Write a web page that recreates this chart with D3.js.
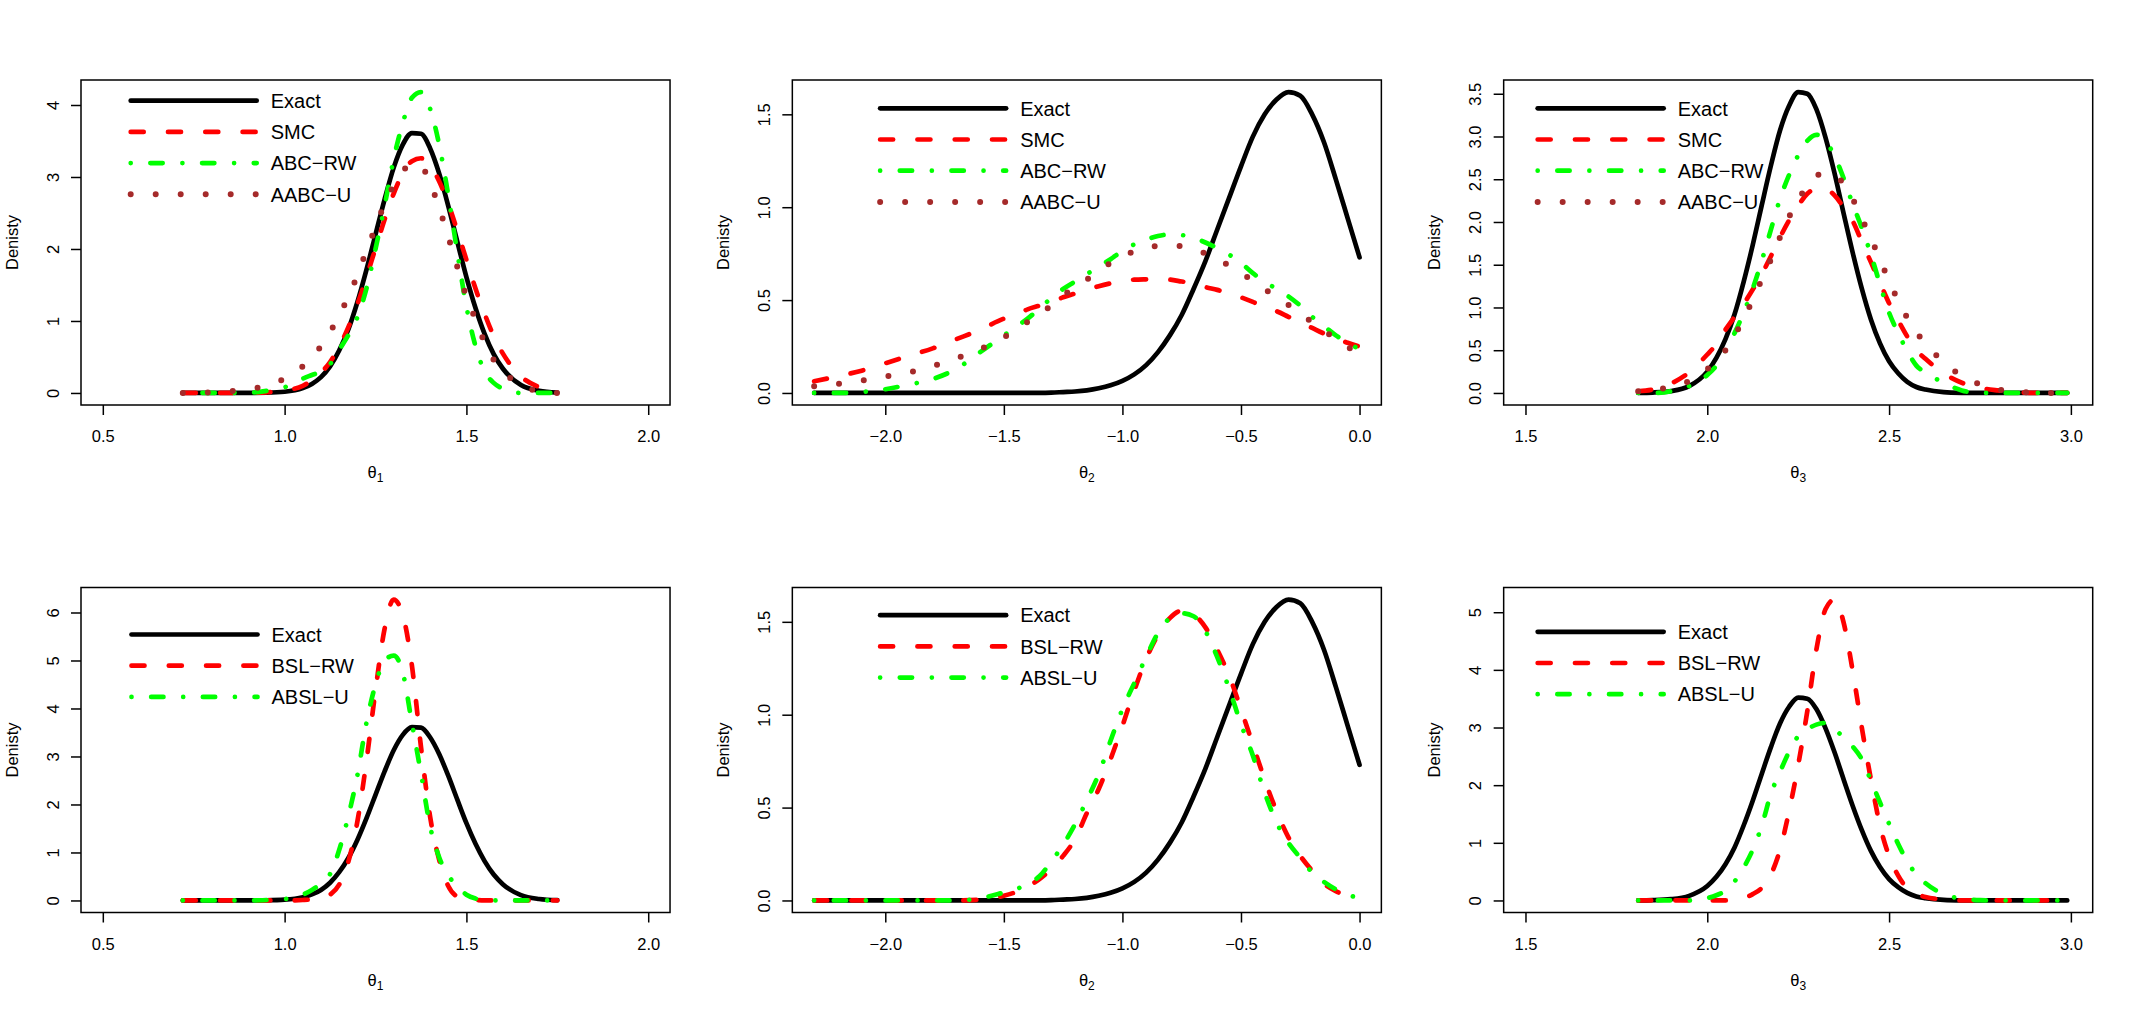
<!DOCTYPE html>
<html>
<head>
<meta charset="utf-8">
<script src="https://cdn.jsdelivr.net/npm/d3@7"></script>
<style>
  body { margin: 0; background: #fff; }
  svg { display: block; font-family: "Liberation Sans", Arial, Helvetica, sans-serif; }
</style>
</head>
<body>
<svg id="chart" width="2134" height="1015"></svg>
<script>
// theta1 grid and densities
const theta1Grid = [0.72, 0.80, 0.90, 0.95, 1.00, 1.05, 1.075, 1.10, 1.125, 1.15, 1.175, 1.20, 1.225, 1.25, 1.275, 1.30,
  1.325, 1.35, 1.375, 1.40, 1.425, 1.45, 1.475, 1.50, 1.525, 1.55, 1.575, 1.60, 1.65, 1.70, 1.75];
const exactTheta1 = [0, 0, 0.001, 0.004, 0.017, 0.068, 0.126, 0.22, 0.37, 0.59, 0.88, 1.26, 1.71, 2.20, 2.69, 3.13,
  3.45, 3.61, 3.60, 3.40, 3.05, 2.60, 2.10, 1.61, 1.18, 0.82, 0.54, 0.34, 0.11, 0.03, 0.005];
const smcTheta1 = [0, 0, 0.002, 0.009, 0.033, 0.10, 0.175, 0.28, 0.43, 0.64, 0.91, 1.23, 1.61, 2.01, 2.41, 2.77,
  3.05, 3.22, 3.26, 3.16, 2.94, 2.63, 2.25, 1.85, 1.45, 1.10, 0.79, 0.55, 0.23, 0.08, 0.01];
const abcRwTheta1 = [0, 0, 0.005, 0.03, 0.08, 0.20, 0.25, 0.30, 0.40, 0.60, 0.80, 1.05, 1.45, 2.00, 2.60, 3.25,
  3.75, 4.10, 4.18, 3.95, 3.45, 2.75, 1.95, 1.20, 0.65, 0.30, 0.14, 0.06, 0, 0, 0];
const aabcUTheta1 = [0, 0.01, 0.05, 0.10, 0.20, 0.37, 0.50, 0.65, 0.85, 1.07, 1.34, 1.63, 1.98, 2.30, 2.63, 2.88,
  3.08, 3.18, 3.15, 2.92, 2.57, 2.17, 1.75, 1.34, 1.02, 0.70, 0.46, 0.30, 0.12, 0.02, 0];
const bslRwTheta1 = [0, 0, 0, 0, 0, 0.01, 0.02, 0.04, 0.12, 0.33, 0.80, 1.64, 2.90, 4.38, 5.66, 6.27,
  5.95, 4.90, 3.20, 1.75, 0.85, 0.30, 0.08, 0.03, 0.01, 0, 0, 0, 0, 0, 0];
const abslUTheta1 = [0, 0, 0, 0.01, 0.03, 0.12, 0.22, 0.35, 0.55, 1.05, 1.75, 2.60, 3.70, 4.50, 5.00, 5.10,
  4.75, 3.70, 2.65, 1.55, 0.90, 0.52, 0.30, 0.12, 0.04, 0.01, 0, 0, 0, 0, 0];

// theta2 grid and densities
const theta2Grid = [-2.3, -2.2, -2.1, -2.0, -1.9, -1.8, -1.7, -1.6, -1.5, -1.45, -1.4, -1.35, -1.3, -1.25, -1.2,
  -1.15, -1.1, -1.05, -1.0, -0.95, -0.9, -0.85, -0.8, -0.75, -0.7, -0.65, -0.6, -0.55, -0.5, -0.45, -0.4,
  -0.35, -0.3, -0.25, -0.2, -0.15, -0.1, -0.05, 0.0];
const exactTheta2 = [0, 0, 0, 0, 0, 0, 0, 0, 0, 0, 0.001, 0.001, 0.002, 0.005, 0.008,
  0.014, 0.025, 0.041, 0.065, 0.10, 0.15, 0.22, 0.31, 0.42, 0.56, 0.71, 0.88, 1.05, 1.22, 1.38, 1.50,
  1.58, 1.62, 1.60, 1.50, 1.35, 1.15, 0.94, 0.73];
const smcTheta2 = [0.063, 0.09, 0.12, 0.16, 0.20, 0.24, 0.29, 0.34, 0.40, 0.42, 0.45, 0.47, 0.49, 0.515, 0.535,
  0.555, 0.575, 0.59, 0.60, 0.61, 0.612, 0.613, 0.61, 0.60, 0.59, 0.57, 0.555, 0.535, 0.515, 0.49, 0.46,
  0.44, 0.41, 0.38, 0.35, 0.32, 0.295, 0.27, 0.25];
const abcRwTheta2 = [0, 0, 0.005, 0.02, 0.045, 0.075, 0.13, 0.22, 0.31, 0.355, 0.40, 0.455, 0.51, 0.56, 0.60,
  0.64, 0.68, 0.72, 0.765, 0.80, 0.825, 0.845, 0.853, 0.85, 0.835, 0.81, 0.78, 0.745, 0.70, 0.645, 0.60,
  0.56, 0.52, 0.47, 0.41, 0.36, 0.31, 0.27, 0.235];
const aabcUTheta2 = [0.036, 0.049, 0.066, 0.088, 0.11, 0.145, 0.187, 0.236, 0.30, 0.34, 0.383, 0.425, 0.47, 0.525, 0.57,
  0.61, 0.657, 0.70, 0.735, 0.762, 0.782, 0.792, 0.795, 0.79, 0.777, 0.75, 0.72, 0.685, 0.645, 0.605, 0.56,
  0.515, 0.474, 0.43, 0.38, 0.335, 0.29, 0.245, 0.23];
const bslRwTheta2 = [0, 0, 0, 0, 0, 0, 0, 0.005, 0.025, 0.045, 0.075, 0.115, 0.17, 0.24, 0.33,
  0.47, 0.60, 0.76, 0.94, 1.13, 1.30, 1.43, 1.52, 1.56, 1.54, 1.47, 1.35, 1.21, 1.03, 0.84, 0.65,
  0.48, 0.34, 0.24, 0.16, 0.09, 0.05, 0.025, 0.015];
const abslUTheta2 = [0, 0, 0, 0, 0, 0, 0, 0.012, 0.043, 0.06, 0.09, 0.13, 0.21, 0.30, 0.41,
  0.54, 0.68, 0.86, 1.03, 1.17, 1.31, 1.44, 1.52, 1.546, 1.53, 1.45, 1.31, 1.14, 0.95, 0.78, 0.58,
  0.42, 0.31, 0.23, 0.15, 0.10, 0.06, 0.03, 0.015];

// theta3 grid and densities
const theta3Grid = [1.81, 1.85, 1.90, 1.95, 2.00, 2.025, 2.05, 2.075, 2.10, 2.125, 2.15, 2.175, 2.20, 2.225, 2.25,
  2.275, 2.30, 2.325, 2.35, 2.375, 2.40, 2.425, 2.45, 2.475, 2.50, 2.525, 2.55, 2.575, 2.60, 2.65, 2.70,
  2.75, 2.80, 2.85, 2.90, 2.95, 2.99];
const exactTheta3 = [0.001, 0.005, 0.022, 0.08, 0.25, 0.41, 0.63, 0.92, 1.30, 1.73, 2.20, 2.66, 3.07, 3.36, 3.52,
  3.50, 3.32, 2.99, 2.57, 2.10, 1.64, 1.22, 0.86, 0.58, 0.37, 0.23, 0.13, 0.07, 0.04, 0.01, 0.002,
  0, 0, 0, 0, 0, 0];
const smcTheta3 = [0.02, 0.04, 0.11, 0.24, 0.45, 0.57, 0.74, 0.89, 1.04, 1.21, 1.39, 1.60, 1.82, 2.02, 2.19,
  2.33, 2.39, 2.39, 2.31, 2.17, 2.01, 1.77, 1.53, 1.29, 1.05, 0.85, 0.66, 0.50, 0.40, 0.23, 0.12,
  0.06, 0.03, 0.01, 0, 0, 0];
const abcRwTheta3 = [0, 0, 0.02, 0.08, 0.21, 0.32, 0.50, 0.70, 0.94, 1.22, 1.55, 1.91, 2.27, 2.55, 2.78,
  2.95, 3.02, 2.95, 2.77, 2.51, 2.21, 1.93, 1.62, 1.27, 0.94, 0.70, 0.49, 0.32, 0.24, 0.12, 0.03,
  0, 0, 0, 0, 0, 0];
const aabcUTheta3 = [0.02, 0.035, 0.07, 0.14, 0.28, 0.37, 0.50, 0.67, 0.87, 1.09, 1.33, 1.56, 1.82, 2.06, 2.26,
  2.42, 2.54, 2.57, 2.54, 2.45, 2.27, 2.04, 1.81, 1.56, 1.31, 1.08, 0.88, 0.71, 0.58, 0.36, 0.20,
  0.10, 0.04, 0.015, 0.005, 0, 0];
const bslRwTheta3 = [0, 0, 0, 0, 0, 0, 0, 0.01, 0.04, 0.11, 0.22, 0.45, 0.88, 1.55, 2.35,
  3.28, 4.35, 5.05, 5.22, 4.82, 3.98, 3.00, 2.10, 1.30, 0.77, 0.43, 0.21, 0.11, 0.06, 0.015, 0,
  0, 0, 0, 0, 0, 0];
const abslUTheta3 = [0, 0, 0, 0, 0.04, 0.09, 0.17, 0.33, 0.57, 0.88, 1.30, 1.85, 2.23, 2.58, 2.85,
  2.97, 3.05, 3.08, 2.97, 2.83, 2.67, 2.45, 2.08, 1.70, 1.33, 0.98, 0.68, 0.45, 0.30, 0.11, 0.03,
  0.005, 0, 0, 0, 0, 0];

// axis ticks
const xTicksTheta1 = [0.5, 1.0, 1.5, 2.0];
const xTicksTheta2 = [-2.0, -1.5, -1.0, -0.5, 0.0];
const xTicksTheta3 = [1.5, 2.0, 2.5, 3.0];
const yTicksP1 = [0, 1, 2, 3, 4];
const yTicksP2 = [0, 0.5, 1.0, 1.5];
const yTicksP3 = [0, 0.5, 1.0, 1.5, 2.0, 2.5, 3.0, 3.5];
const yTicksP4 = [0, 1, 2, 3, 4, 5, 6];
const yTicksP6 = [0, 1, 2, 3, 4, 5];

const topNames = ["Exact", "SMC", "ABC\u2212RW", "AABC\u2212U"];
const bottomNames = ["Exact", "BSL\u2212RW", "ABSL\u2212U"];

// line styles (R: lty 1, 2, 4, 3)
const styles = {
  solid: { color: "#000000", dash: null, width: 4.7 },
  dashed: { color: "#ff0000", dash: "13 24.3", width: 4.7 },
  dotdash: { color: "#00ff00", dash: "0.01 19.65 12.3 19.74", width: 4.7 },
  dotted: { color: "#a52a2a", dash: "0 25", width: 6 }
};

const panels = [
  { col: 0, row: 0, grid: theta1Grid, xlim: [0.5, 2.0], xTicks: xTicksTheta1, yTicks: yTicksP1, yFmt: "d", sub: "1",
    series: [exactTheta1, smcTheta1, abcRwTheta1, aabcUTheta1], kinds: ["solid", "dashed", "dotdash", "dotted"],
    names: topNames, legX: 49.7, legY: 20.7 },
  { col: 1, row: 0, grid: theta2Grid, xlim: d3.extent(theta2Grid), xTicks: xTicksTheta2, yTicks: yTicksP2, yFmt: ".1f", sub: "2",
    series: [exactTheta2, smcTheta2, abcRwTheta2, aabcUTheta2], kinds: ["solid", "dashed", "dotdash", "dotted"],
    names: topNames, legX: 87.8, legY: 28.3 },
  { col: 2, row: 0, grid: theta3Grid, xlim: [1.5, 3.0], xTicks: xTicksTheta3, yTicks: yTicksP3, yFmt: ".1f", sub: "3",
    series: [exactTheta3, smcTheta3, abcRwTheta3, aabcUTheta3], kinds: ["solid", "dashed", "dotdash", "dotted"],
    names: topNames, legX: 34, legY: 28.3 },
  { col: 0, row: 1, grid: theta1Grid, xlim: [0.5, 2.0], xTicks: xTicksTheta1, yTicks: yTicksP4, yFmt: "d", sub: "1",
    series: [exactTheta1, bslRwTheta1, abslUTheta1], kinds: ["solid", "dashed", "dotdash"],
    names: bottomNames, legX: 50.5, legY: 47 },
  { col: 1, row: 1, grid: theta2Grid, xlim: d3.extent(theta2Grid), xTicks: xTicksTheta2, yTicks: yTicksP2, yFmt: ".1f", sub: "2",
    series: [exactTheta2, bslRwTheta2, abslUTheta2], kinds: ["solid", "dashed", "dotdash"],
    names: bottomNames, legX: 87.8, legY: 27.7 },
  { col: 2, row: 1, grid: theta3Grid, xlim: [1.5, 3.0], xTicks: xTicksTheta3, yTicks: yTicksP6, yFmt: "d", sub: "3",
    series: [exactTheta3, bslRwTheta3, abslUTheta3], kinds: ["solid", "dashed", "dotdash"],
    names: bottomNames, legX: 34, legY: 44.3 }
];

const svg = d3.select("#chart");
const cellW = 2134 / 3;
const cellH = 1015 / 2;
const margin = { top: 80, right: 41.3, bottom: 102.5, left: 81 };
const plotW = cellW - margin.left - margin.right;
const plotH = cellH - margin.top - margin.bottom;
const legendGap = 31.2;

// R style 4% padding on each side
function pad(lo, hi) {
  const d = (hi - lo) * 0.04;
  return [lo - d, hi + d];
}

panels.forEach((p) => {
  const g = svg.append("g")
    .attr("transform", `translate(${p.col * cellW + margin.left},${p.row * cellH + margin.top})`);

  const yMax = d3.max(p.series, (s) => d3.max(s));
  const x = d3.scaleLinear().domain(pad(p.xlim[0], p.xlim[1])).range([0, plotW]);
  const y = d3.scaleLinear().domain(pad(0, yMax)).range([plotH, 0]);

  const line = d3.line()
    .x((d) => x(d[0]))
    .y((d) => y(d[1]))
    .curve(d3.curveMonotoneX);

  p.series.forEach((vals, i) => {
    const st = styles[p.kinds[i]];
    g.append("path")
      .datum(p.grid.map((v, j) => [v, vals[j]]))
      .attr("fill", "none")
      .attr("stroke", st.color)
      .attr("stroke-width", st.width)
      .attr("stroke-linecap", "round")
      .attr("stroke-linejoin", "round")
      .attr("stroke-dasharray", st.dash)
      .attr("d", line);
  });

  // box
  g.append("rect")
    .attr("width", plotW)
    .attr("height", plotH)
    .attr("fill", "none")
    .attr("stroke", "#000")
    .attr("stroke-width", 1.5);

  // x axis
  const xa = g.append("g")
    .attr("transform", `translate(0,${plotH})`)
    .call(d3.axisBottom(x).tickValues(p.xTicks).tickFormat(d3.format(".1f")).tickSizeInner(10).tickSizeOuter(0));
  xa.select(".domain").remove();
  xa.selectAll("line").attr("stroke-width", 1.5);
  xa.selectAll("text")
    .attr("y", 31.5)
    .attr("dy", "0.35em")
    .attr("fill", "#000")
    .style("font-size", "16.5px")
    .style("font-family", null);

  // y axis
  const ya = g.append("g")
    .call(d3.axisLeft(y).tickValues(p.yTicks).tickFormat(d3.format(p.yFmt)).tickSizeInner(10).tickSizeOuter(0));
  ya.select(".domain").remove();
  ya.selectAll("line").attr("stroke-width", 1.5);
  ya.selectAll("text")
    .attr("x", 0)
    .attr("dy", "0.35em")
    .attr("text-anchor", "middle")
    .attr("transform", "translate(-28,0) rotate(-90)")
    .attr("fill", "#000")
    .style("font-size", "16.5px")
    .style("font-family", null);

  // axis titles
  g.append("text")
    .attr("transform", `translate(-69,${plotH / 2}) rotate(-90)`)
    .attr("dy", "0.35em")
    .attr("text-anchor", "middle")
    .style("font-size", "16.5px")
    .text("Denisty");

  const xt = g.append("text")
    .attr("x", plotW / 2)
    .attr("y", plotH + 73)
    .attr("text-anchor", "middle")
    .style("font-size", "16.5px");
  xt.append("tspan").text("\u03b8");
  xt.append("tspan").attr("dy", 4).style("font-size", "12px").text(p.sub);

  // legend
  const leg = g.append("g");
  p.names.forEach((name, i) => {
    const st = styles[p.kinds[i]];
    const ly = p.legY + i * legendGap;
    leg.append("line")
      .attr("x1", p.legX)
      .attr("x2", p.legX + 126)
      .attr("y1", ly)
      .attr("y2", ly)
      .attr("stroke", st.color)
      .attr("stroke-width", st.width)
      .attr("stroke-linecap", "round")
      .attr("stroke-dasharray", st.dash);
    leg.append("text")
      .attr("x", p.legX + 140)
      .attr("y", ly)
      .attr("dy", "0.36em")
      .style("font-size", "20px")
      .text(name);
  });
});
</script>
</body>
</html>
